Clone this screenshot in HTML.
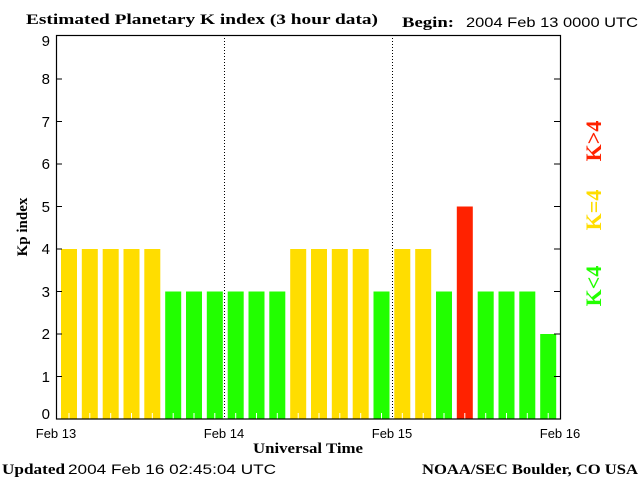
<!DOCTYPE html>
<html><head><style>body{margin:0;background:#fff}</style></head><body>
<svg width="640" height="480" xmlns="http://www.w3.org/2000/svg">
<rect width="640" height="480" fill="#fff"/>
<g>
<rect x="61" y="249" width="16" height="170" fill="#ffdd00"/>
<rect x="81.8" y="249" width="16" height="170" fill="#ffdd00"/>
<rect x="102.7" y="249" width="16" height="170" fill="#ffdd00"/>
<rect x="123.5" y="249" width="16" height="170" fill="#ffdd00"/>
<rect x="144.3" y="249" width="16" height="170" fill="#ffdd00"/>
<rect x="165.2" y="291.5" width="16" height="127.5" fill="#22ff00"/>
<rect x="186" y="291.5" width="16" height="127.5" fill="#22ff00"/>
<rect x="206.8" y="291.5" width="16" height="127.5" fill="#22ff00"/>
<rect x="227.7" y="291.5" width="16" height="127.5" fill="#22ff00"/>
<rect x="248.5" y="291.5" width="16" height="127.5" fill="#22ff00"/>
<rect x="269.3" y="291.5" width="16" height="127.5" fill="#22ff00"/>
<rect x="290.2" y="249" width="16" height="170" fill="#ffdd00"/>
<rect x="311" y="249" width="16" height="170" fill="#ffdd00"/>
<rect x="331.8" y="249" width="16" height="170" fill="#ffdd00"/>
<rect x="352.7" y="249" width="16" height="170" fill="#ffdd00"/>
<rect x="373.5" y="291.5" width="16" height="127.5" fill="#22ff00"/>
<rect x="394.3" y="249" width="16" height="170" fill="#ffdd00"/>
<rect x="415.2" y="249" width="16" height="170" fill="#ffdd00"/>
<rect x="436" y="291.5" width="16" height="127.5" fill="#22ff00"/>
<rect x="456.8" y="206.5" width="16" height="212.5" fill="#ff2200"/>
<rect x="477.7" y="291.5" width="16" height="127.5" fill="#22ff00"/>
<rect x="498.5" y="291.5" width="16" height="127.5" fill="#22ff00"/>
<rect x="519.3" y="291.5" width="16" height="127.5" fill="#22ff00"/>
<rect x="540.2" y="334" width="16" height="85" fill="#22ff00"/>
</g>
<g stroke="#fff">
<line x1="69" y1="413" x2="69" y2="419"/><line x1="89.8" y1="413" x2="89.8" y2="419"/><line x1="110.7" y1="413" x2="110.7" y2="419"/><line x1="131.5" y1="413" x2="131.5" y2="419"/><line x1="152.3" y1="413" x2="152.3" y2="419"/><line x1="173.2" y1="413" x2="173.2" y2="419"/><line x1="194" y1="413" x2="194" y2="419"/><line x1="214.8" y1="413" x2="214.8" y2="419"/><line x1="235.7" y1="413" x2="235.7" y2="419"/><line x1="256.5" y1="413" x2="256.5" y2="419"/><line x1="277.3" y1="413" x2="277.3" y2="419"/><line x1="298.2" y1="413" x2="298.2" y2="419"/><line x1="319" y1="413" x2="319" y2="419"/><line x1="339.8" y1="413" x2="339.8" y2="419"/><line x1="360.7" y1="413" x2="360.7" y2="419"/><line x1="381.5" y1="413" x2="381.5" y2="419"/><line x1="402.3" y1="413" x2="402.3" y2="419"/><line x1="423.2" y1="413" x2="423.2" y2="419"/><line x1="444" y1="413" x2="444" y2="419"/><line x1="464.8" y1="413" x2="464.8" y2="419"/><line x1="485.7" y1="413" x2="485.7" y2="419"/><line x1="506.5" y1="413" x2="506.5" y2="419"/><line x1="527.3" y1="413" x2="527.3" y2="419"/><line x1="548.2" y1="413" x2="548.2" y2="419"/>
</g>
<line x1="224.5" y1="35" x2="224.5" y2="419" stroke="#000" stroke-dasharray="1,2"/>
<line x1="392.5" y1="35" x2="392.5" y2="419" stroke="#000" stroke-dasharray="1,2"/>
<rect x="56.5" y="35.5" width="504" height="383.5" fill="none" stroke="#000" stroke-width="1.2"/>
<g stroke="#000">
<line x1="56" y1="79" x2="62" y2="79"/><line x1="56" y1="121.5" x2="62" y2="121.5"/><line x1="56" y1="164" x2="62" y2="164"/><line x1="56" y1="206.5" x2="62" y2="206.5"/><line x1="56" y1="249" x2="62" y2="249"/><line x1="56" y1="291.5" x2="62" y2="291.5"/><line x1="56" y1="334" x2="62" y2="334"/><line x1="56" y1="376.5" x2="62" y2="376.5"/>
<line x1="554" y1="79" x2="560" y2="79"/><line x1="554" y1="121.5" x2="560" y2="121.5"/><line x1="554" y1="164" x2="560" y2="164"/><line x1="554" y1="206.5" x2="560" y2="206.5"/><line x1="554" y1="249" x2="560" y2="249"/><line x1="554" y1="291.5" x2="560" y2="291.5"/><line x1="554" y1="334" x2="560" y2="334"/><line x1="554" y1="376.5" x2="560" y2="376.5"/>
</g>
<g font-family="Liberation Sans, sans-serif" font-size="15" text-anchor="end" fill="#000">
<text x="50" y="419">0</text><text x="50" y="382">1</text><text x="50" y="339">2</text><text x="50" y="297">3</text><text x="50" y="254">4</text><text x="50" y="212">5</text><text x="50" y="169">6</text><text x="50" y="127">7</text><text x="50" y="84">8</text><text x="50" y="46">9</text>
</g>
<g font-family="Liberation Sans, sans-serif" font-size="13" text-anchor="middle">
<text x="56" y="438">Feb 13</text><text x="224" y="438">Feb 14</text><text x="392" y="438">Feb 15</text><text x="560" y="438">Feb 16</text>
</g>
<g font-family="Liberation Serif, serif" font-weight="bold" font-size="15">
<text x="26" y="24" textLength="352" lengthAdjust="spacingAndGlyphs">Estimated Planetary K index (3 hour data)</text>
<text x="402" y="27" textLength="52" lengthAdjust="spacingAndGlyphs">Begin:</text>
<text x="253" y="453" textLength="110" lengthAdjust="spacingAndGlyphs">Universal Time</text>
<text x="27" y="227" text-anchor="middle" transform="rotate(-90 27 227)">Kp index</text>
<text x="2" y="474" textLength="63" lengthAdjust="spacingAndGlyphs">Updated</text>
<text x="422" y="474" textLength="216" lengthAdjust="spacingAndGlyphs">NOAA/SEC Boulder, CO USA</text>
</g>
<g font-family="Liberation Sans, sans-serif" font-size="14">
<text x="466" y="27" textLength="172" lengthAdjust="spacingAndGlyphs">2004 Feb 13 0000 UTC</text>
<text x="68" y="474" textLength="208" lengthAdjust="spacingAndGlyphs">2004 Feb 16 02:45:04 UTC</text>
</g>
<g font-family="Liberation Serif, serif" font-weight="bold" font-size="22" text-anchor="middle">
<text x="608" y="148" fill="#ff2200" transform="rotate(-90 601 148)">K&gt;4</text>
<text x="608" y="217" fill="#ffdd00" transform="rotate(-90 601 217)">K=4</text>
<text x="608" y="293" fill="#22ff00" transform="rotate(-90 601 293)">K&lt;4</text>
</g>
</svg>
</body></html>
